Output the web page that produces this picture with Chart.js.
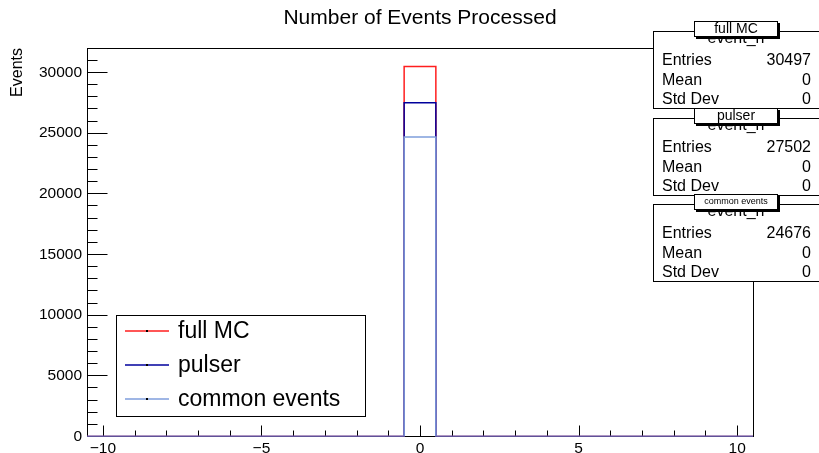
<!DOCTYPE html>
<html>
<head>
<meta charset="utf-8">
<title>Number of Events Processed</title>
<script src="https://cdn.jsdelivr.net/npm/chart.js@4.4.0/dist/chart.umd.min.js"></script>
<style>
  html, body { margin: 0; padding: 0; background: #fff; }
  #wrap { width: 819px; height: 453px; }
</style>
</head>
<body>
<div id="wrap"><canvas id="c" width="819" height="453"></canvas></div>
<script>
// event_n histogram, 21 unit bins from -10.5 to 10.5
var binCenters = [-10, -9, -8, -7, -6, -5, -4, -3, -2, -1, 0, 1, 2, 3, 4, 5, 6, 7, 8, 9, 10];
var fullMC = [0, 0, 0, 0, 0, 0, 0, 0, 0, 0, 30497, 0, 0, 0, 0, 0, 0, 0, 0, 0, 0];
var pulser = [0, 0, 0, 0, 0, 0, 0, 0, 0, 0, 27502, 0, 0, 0, 0, 0, 0, 0, 0, 0, 0];
var commonEvents = [0, 0, 0, 0, 0, 0, 0, 0, 0, 0, 24676, 0, 0, 0, 0, 0, 0, 0, 0, 0, 0];

var seriesNames = ['full MC', 'pulser', 'common events'];
var seriesColors = ['#ff1e1e', '#00009c', '#7f9edc'];
var seriesMeans = [0, 0, 0];
var seriesStdDevs = [0, 0, 0];

var xTicks = [-10, -5, 0, 5, 10];
var yTicks = [0, 5000, 10000, 15000, 20000, 25000, 30000];

var FONT = '"Liberation Sans", Arial, Helvetica, sans-serif';
var allSeries = [fullMC, pulser, commonEvents];

// bin contents -> step outline points at bin low edges (+ closing edge)
function histPoints(values) {
  var pts = values.map(function (v, i) { return { x: binCenters[i] - 0.5, y: v }; });
  pts.push({ x: binCenters[binCenters.length - 1] + 0.5, y: values[values.length - 1] });
  return pts;
}
function sum(a) { return a.reduce(function (s, v) { return s + v; }, 0); }
function fmt(v) { return v < 0 ? '\u2212' + Math.abs(v) : String(v); }

var yMax = Math.max.apply(null, fullMC) * 1.05;

// frame + inward ROOT style tick marks
var framePlugin = {
  id: 'frame',
  beforeDatasetsDraw: function (chart) {
    var ctx = chart.ctx, a = chart.chartArea;
    var xs = chart.scales.x, ys = chart.scales.y;
    var left = Math.round(a.left) + 0.5, top = Math.round(a.top) + 0.5;
    var right = Math.round(a.right) + 0.5, bottom = Math.floor(a.bottom) + 0.5;
    ctx.save();
    ctx.strokeStyle = '#000';
    ctx.lineWidth = 1;
    ctx.strokeRect(left, top, right - left, bottom - top);
    ctx.beginPath();
    for (var v = 0; v <= yMax; v += 1000) {
      var py = Math.floor(ys.getPixelForValue(v)) + 0.5;
      var len = (v % 5000 === 0) ? 20 : 10;
      ctx.moveTo(left, py);
      ctx.lineTo(left + len, py);
    }
    for (var x = -10; x <= 10; x++) {
      var px = Math.round(xs.getPixelForValue(x)) + 0.5;
      var l2 = (x % 5 === 0) ? 11 : 6;
      ctx.moveTo(px, bottom);
      ctx.lineTo(px, bottom - l2);
    }
    ctx.stroke();
    ctx.restore();
  },
  afterDraw: function (chart) {
    var ctx = chart.ctx;
    ctx.save();
    // title
    ctx.fillStyle = '#000';
    ctx.font = '21px ' + FONT;
    ctx.textAlign = 'center';
    ctx.textBaseline = 'alphabetic';
    ctx.fillText('Number of Events Processed', 420, 24);
    // y axis title
    ctx.save();
    ctx.translate(22, 48);
    ctx.rotate(-Math.PI / 2);
    ctx.font = '16px ' + FONT;
    ctx.textAlign = 'right';
    ctx.fillText('Events', 0, 0);
    ctx.restore();

    // legend
    ctx.fillStyle = '#fff';
    ctx.fillRect(116, 315, 249, 101);
    ctx.strokeStyle = '#000';
    ctx.lineWidth = 1;
    ctx.strokeRect(116.5, 315.5, 249, 101);
    var rowsY = [331, 365, 399];
    ctx.font = '23px ' + FONT;
    ctx.textAlign = 'left';
    ctx.textBaseline = 'middle';
    seriesNames.forEach(function (name, i) {
      var y = rowsY[i];
      ctx.strokeStyle = seriesColors[i];
      ctx.lineWidth = 1.5;
      ctx.beginPath();
      ctx.moveTo(125, y);
      ctx.lineTo(169, y);
      ctx.stroke();
      ctx.fillStyle = '#000';
      ctx.fillRect(146, y - 1, 2, 2);
      ctx.fillText(name, 178, y + 1);
    });

    // stat boxes
    var tops = [31, 118, 204];
    var titleSizes = [14, 14, 9];
    seriesNames.forEach(function (name, i) {
      var t = tops[i];
      ctx.fillStyle = '#fff';
      ctx.fillRect(653, t, 170, 77);
      ctx.strokeStyle = '#000';
      ctx.lineWidth = 1;
      ctx.strokeRect(653.5, t + 0.5, 170, 77);
      ctx.fillStyle = '#000';
      ctx.font = '16px ' + FONT;
      ctx.textAlign = 'center';
      ctx.textBaseline = 'alphabetic';
      ctx.fillText('event_n', 736, t + 12);
      var rows = [['Entries', sum(allSeries[i])], ['Mean', seriesMeans[i]], ['Std Dev', seriesStdDevs[i]]];
      ctx.textBaseline = 'middle';
      rows.forEach(function (r, k) {
        var y = t + 30 + k * 19.5;
        ctx.textAlign = 'left';
        ctx.fillText(r[0], 662, y);
        ctx.textAlign = 'right';
        ctx.fillText(String(r[1]), 811, y);
      });
      // title label with shadow
      ctx.fillStyle = '#000';
      ctx.fillRect(696, t - 8, 84, 16);
      ctx.fillStyle = '#fff';
      ctx.fillRect(694, t - 10, 84, 16);
      ctx.strokeRect(694.5, t - 9.5, 83, 15);
      ctx.fillStyle = '#000';
      ctx.font = titleSizes[i] + 'px ' + FONT;
      ctx.textAlign = 'center';
      ctx.textBaseline = 'middle';
      ctx.fillText(name, 736, t - 2);
    });
    ctx.restore();
  }
};

var datasets = seriesNames.map(function (name, i) {
  return {
    label: name,
    data: histPoints(allSeries[i]),
    borderColor: seriesColors[i],
    borderWidth: 1.5,
    backgroundColor: 'transparent',
    fill: false,
    stepped: true,
    pointRadius: 0,
    order: 3 - i
  };
});

new Chart(document.getElementById('c').getContext('2d'), {
  type: 'line',
  data: { datasets: datasets },
  options: {
    responsive: false,
    animation: false,
    devicePixelRatio: 1,
    layout: { padding: { top: 48, right: 66, left: 0, bottom: 0 } },
    plugins: { legend: { display: false }, title: { display: false }, tooltip: { enabled: false } },
    scales: {
      x: {
        type: 'linear',
        min: -10.5,
        max: 10.5,
        grid: { display: false, drawTicks: false },
        border: { display: false },
        afterBuildTicks: function (s) { s.ticks = xTicks.map(function (v) { return { value: v }; }); },
        afterFit: function (s) { s.height = 16.5; },
        ticks: {
          color: '#000',
          padding: 3,
          maxRotation: 0,
          autoSkip: false,
          font: { family: FONT, size: 15.5 },
          callback: function (v) { return fmt(v); }
        }
      },
      y: {
        type: 'linear',
        min: 0,
        max: yMax,
        grid: { display: false, drawTicks: false },
        border: { display: false },
        afterBuildTicks: function (s) { s.ticks = yTicks.map(function (v) { return { value: v }; }); },
        afterFit: function (s) { s.width = 87; },
        ticks: {
          color: '#000',
          padding: 5,
          autoSkip: false,
          font: { family: FONT, size: 15.5 },
          callback: function (v) { return String(v); }
        }
      }
    }
  },
  plugins: [framePlugin]
});
</script>
</body>
</html>
